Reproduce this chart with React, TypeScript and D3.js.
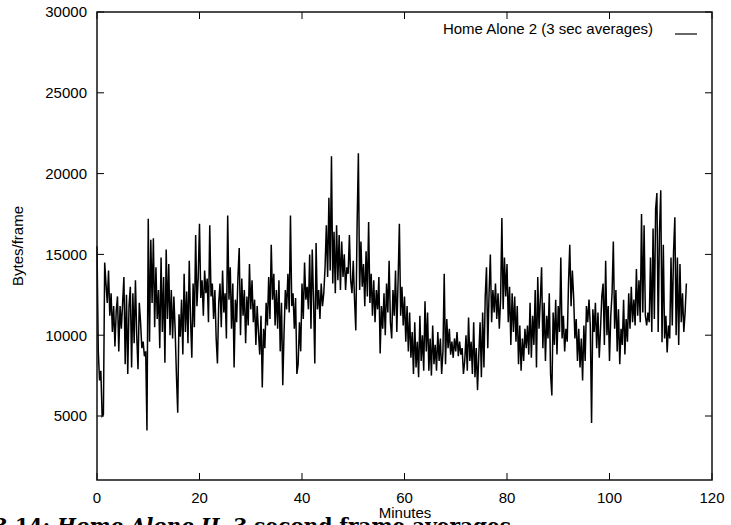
import React from "react";
import * as d3 from "d3";

const xTicks = [0, 20, 40, 60, 80, 100, 120];
const yTicks = [5000, 10000, 15000, 20000, 25000, 30000];
const stepMinutes = 0.25;
const seriesLabel = "Home Alone 2 (3 sec averages)";

const bytesPerFrame = [
  15500, 9000, 7200, 7800, 5000, 5100, 14500, 13200, 12000, 14000, 11200, 12600, 10200, 11800, 9300, 11500, 12400, 9000, 11800, 10400,
  12000, 13600, 8200, 12500, 7600, 11800, 13000, 8000, 12600, 9500, 13400, 10000, 7900, 12000, 10800, 9200, 9600, 8700, 9000, 4100,
  17200, 9600, 15900, 12000, 16000, 10500, 14200, 11000, 12800, 9200, 14800, 10200, 13600, 8300, 15300, 11000, 14400, 10000, 12800, 9800,
  12400, 10300, 7500, 5200, 11300, 9900, 12200, 8800, 13800, 10200, 12700, 9500, 14600, 11000, 8600, 13200, 10500, 16200, 11800, 13600,
  16900, 12300, 13400, 11200, 14000, 12600, 13500, 10800, 16800, 12400, 13200, 11000, 12800, 9800, 8250, 12000, 13200, 10500, 14000, 11400,
  12600, 9800, 17400, 12200, 14200, 10400, 13200, 8000, 12200, 10800, 13600, 15400, 10000, 13500, 11200, 12800, 9500, 12400, 10600, 14400,
  11600, 13400, 10800, 12200, 9400, 11800, 10200, 8800, 11200, 6760, 10400, 9200, 12000, 10600, 13600, 11000, 15600, 12200, 13800, 10600,
  12800, 10400, 13400, 9000, 12000, 6900, 10200, 12800, 11600, 13800, 11400, 17400, 11800, 12600, 10400, 12300, 7600, 8200, 10800, 9000,
  13200, 11000, 14500, 12200, 13000, 11600, 15000, 10400, 15300, 12200, 8250, 15700, 11600, 12800, 11000, 13200, 11800, 12600, 14200, 16800,
  13600, 18500, 14000, 21080, 13200, 16400, 12600, 16800, 13400, 16200, 12800, 15800, 13600, 15000, 12800, 14200, 13800, 16200, 13400, 12600,
  14600, 12200, 10300, 16800, 21260, 12800, 15800, 13000, 14400, 11800, 15200, 12400, 17000, 12000, 13800, 11200, 13400, 10800, 12800, 11600,
  13600, 8870, 11800, 10400, 12600, 10000, 13200, 11400, 14600, 10800, 9800, 12800, 11200, 14000, 10200, 13400, 16900, 11200, 13000, 10600,
  12400, 9600, 11800, 9000, 11400, 8600, 10200, 7600, 10800, 8000, 9600, 7400, 11200, 8400, 10000, 7800, 12100, 9000, 11400, 7800,
  9800, 7500, 10600, 8200, 9400, 7800, 10200, 8400, 9800, 7600, 9000, 13800, 8200, 11000, 9200, 10400, 8800, 9600, 8600, 9800,
  9000, 10200, 8700, 9600, 8800, 9200, 7600, 8400, 10000, 7800, 11100, 8400, 9600, 7600, 10800, 7400, 9200, 6600, 8800, 10800,
  7400, 11400, 8000, 12400, 14200, 9200, 12600, 15000, 10800, 12800, 11400, 13200, 11000, 12600, 10400, 12200, 17250, 11600, 14800, 12400,
  14400, 10800, 13000, 9400, 12600, 10200, 12400, 9600, 11800, 8200, 10600, 7800, 9800, 8400, 10400, 9200, 10600, 8800, 12000, 8600,
  11200, 9400, 12800, 8000, 13600, 10400, 12200, 14200, 9200, 12000, 8400, 11200, 9800, 12600, 7600, 6270, 11400, 9400, 12200, 8800,
  11800, 10200, 14800, 9800, 11200, 9000, 10400, 9600, 13200, 15600, 11800, 14000, 12400, 9800, 11000, 8400, 10400, 8000, 9800, 7200,
  10600, 8400, 11800, 10800, 12200, 10600, 4560, 11600, 10200, 12000, 9200, 11400, 8600, 10400, 12400, 13200, 9400, 14600, 10000, 11800,
  8400, 11200, 12600, 15800, 10400, 12800, 9000, 11600, 8200, 10400, 9400, 12200, 8800, 11000, 9600, 12600, 10400, 13000, 10800, 12200,
  10600, 14100, 11200, 13400, 10800, 17500, 11400, 16800, 11200, 10600, 11400, 10800, 14800, 10200, 16600, 11000, 17800, 18800, 10200, 16400,
  18970, 9560, 15600, 9800, 11200, 8930, 10600, 9800, 14800, 10600, 15200, 17300, 10000, 14800, 9400, 14400, 10800, 12600, 10200, 11400,
  13200,
];

const W = 731;
const H = 525;
const left = 97;
const right = 712;
const top = 12;
const bottom = 480;

export default function App() {
  const x = d3.scaleLinear().domain([0, 120]).range([left, right]);
  const y = d3.scaleLinear().domain([5000, 30000]).range([416, top]);
  const line = d3
    .line<number>()
    .x((_, i) => x(i * stepMinutes))
    .y((d) => y(d));
  const font = "Liberation Sans, Arial, Helvetica, sans-serif";
  const tl = 7;
  const fs = 15;
  return (
    <svg
      width={W}
      height={H}
      style={{ position: "absolute", left: 0, top: 0, background: "#fff" }}
      fontFamily={font}
    >
      <path d={line(bytesPerFrame) || ""} fill="none" stroke="#000" strokeWidth={1.5} strokeLinejoin="miter" />
      {yTicks.map((t) => (
        <g key={"y" + t}>
          <line x1={left} x2={left + tl} y1={y(t)} y2={y(t)} stroke="#000" strokeWidth={1} />
          <line x1={right} x2={right - tl} y1={y(t)} y2={y(t)} stroke="#000" strokeWidth={1} />
          <text x={87} y={y(t)} dy="0.36em" textAnchor="end" fontSize={fs} fill="#000">
            {t}
          </text>
        </g>
      ))}
      {xTicks.map((t) => (
        <g key={"x" + t}>
          <line x1={x(t)} x2={x(t)} y1={bottom} y2={bottom - tl} stroke="#000" strokeWidth={1} />
          <line x1={x(t)} x2={x(t)} y1={top} y2={top + tl} stroke="#000" strokeWidth={1} />
          <text x={x(t)} y={503} textAnchor="middle" fontSize={fs} fill="#000">
            {t}
          </text>
        </g>
      ))}
      <rect x={left} y={top} width={right - left} height={bottom - top} fill="none" stroke="#111" strokeWidth={1.5} />
      <text x={653} y={34} textAnchor="end" fontSize={fs} fill="#000">
        {seriesLabel}
      </text>
      <line x1={675} x2={697} y1={34} y2={34} stroke="#000" strokeWidth={1.2} />
      <text x={405} y={518} textAnchor="middle" fontSize={fs} fill="#000">
        Minutes
      </text>
      <text transform="translate(23,246) rotate(-90)" textAnchor="middle" fontSize={fs} fill="#000">
        Bytes/frame
      </text>
      <text x={-6} y={533} fontFamily="DejaVu Serif, serif" fontWeight="bold" fontSize={20} fill="#000">
        <tspan>3.14: </tspan>
        <tspan fontStyle="italic">Home Alone II</tspan>
        <tspan>, 3 second frame averages</tspan>
      </text>
    </svg>
  );
}
